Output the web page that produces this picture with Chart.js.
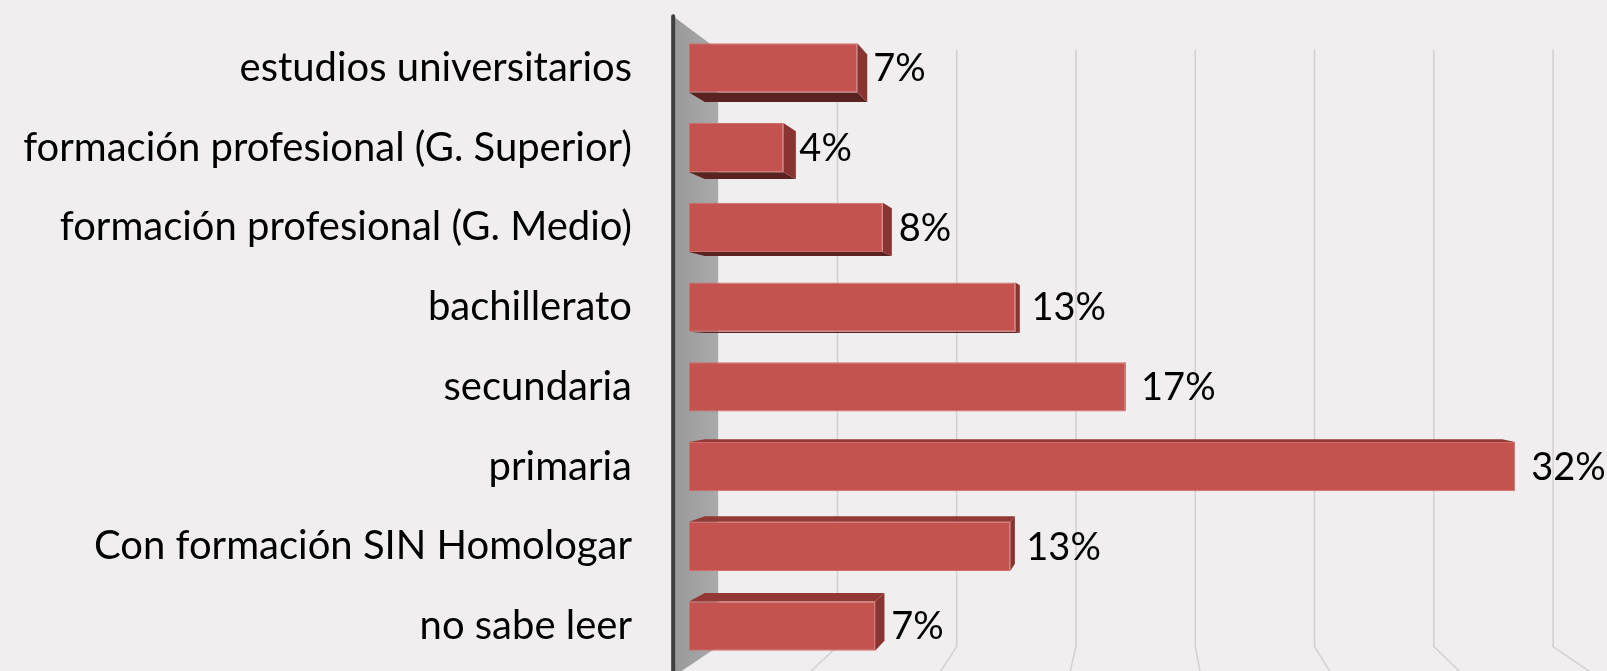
<!DOCTYPE html>
<html lang="es">
<head>
<meta charset="utf-8">
<title>Nivel de estudios</title>
<script src="https://cdn.jsdelivr.net/npm/chart.js@4.4.1/dist/chart.umd.min.js"></script>
<style>
  html, body { margin:0; padding:0; background:#F0EEEF; }
  #wrap { width:1607px; height:671px; }
</style>
</head>
<body>
<div id="wrap"><canvas id="eduChart" width="1607" height="671"></canvas></div>
<script>
/* ---------- Data ---------- */
const categories = [
  'estudios universitarios',
  'formación profesional (G. Superior)',
  'formación profesional (G. Medio)',
  'bachillerato',
  'secundaria',
  'primaria',
  'Con formación SIN Homologar',
  'no sabe leer'
];
const shares = [6.6, 3.7, 7.6, 12.8, 17.1, 32.4, 12.6, 7.3];
const gridValues = [5, 10, 15, 20, 25, 30, 35];

const FONT = 'Lato, "Open Sans", sans-serif';
const FONT_SIZE = 40;
const LABEL_SIZE = 38;

/* ---------- 3D look (perspective toward a vanishing point) ---------- */
const VP_FX = 0.4924, VP_FY = 0.5266;
const WALL_FRONT = 1.035, BACK_WALL = 0.9355, BAR_BACK = 0.965;

function vp(chart){
  const a = chart.chartArea;
  return { x: a.left + (a.right - a.left) * VP_FX, y: a.top + (a.bottom - a.top) * VP_FY };
}
function proj(v, x, y, s){
  return [v.x + (x - v.x) * s, v.y + (y - v.y) * s];
}
function poly(ctx, pts, fill){
  ctx.beginPath();
  ctx.moveTo(pts[0][0], pts[0][1]);
  for(let i = 1; i < pts.length; i++) ctx.lineTo(pts[i][0], pts[i][1]);
  ctx.closePath();
  ctx.fillStyle = fill;
  ctx.fill();
}

const scenePlugin = {
  id:'scene',
  beforeDatasetsDraw(chart){
    const ctx = chart.ctx;
    const a = chart.chartArea;
    const xs = chart.scales.x;
    const v = vp(chart);
    const x0 = xs.getPixelForValue(0);

    ctx.save();
    // back wall gridlines + floor lines
    ctx.strokeStyle = '#D2D0D1';
    ctx.lineWidth = 1.5;
    gridValues.forEach(g => {
      const gx = xs.getPixelForValue(g);
      const t = proj(v, gx, a.top, BACK_WALL);
      const b = proj(v, gx, a.bottom, BACK_WALL);
      const f = proj(v, gx, a.bottom, WALL_FRONT);
      ctx.beginPath();
      ctx.moveTo(t[0], t[1]);
      ctx.lineTo(b[0], b[1]);
      ctx.lineTo(f[0], f[1]);
      ctx.stroke();
    });

    // left side wall
    const wall = [
      proj(v, x0, a.top, WALL_FRONT), proj(v, x0, a.top, BACK_WALL),
      proj(v, x0, a.bottom, BACK_WALL), proj(v, x0, a.bottom, WALL_FRONT)
    ];
    const grad = ctx.createLinearGradient(wall[0][0], 0, wall[1][0], 0);
    grad.addColorStop(0, '#999999');
    grad.addColorStop(1, '#AAAAAA');
    poly(ctx, wall, grad);
    ctx.strokeStyle = '#3F3F3F';
    ctx.lineWidth = 4;
    ctx.lineCap = 'round';
    ctx.beginPath();
    ctx.moveTo(wall[0][0], wall[0][1]);
    ctx.lineTo(wall[3][0], wall[3][1]);
    ctx.stroke();

    // bar depth faces (drawn behind the front faces)
    chart.getDatasetMeta(0).data.forEach(el => {
      const p = el.getProps(['x','y','base','height'], true);
      const L = p.base, R = p.x, T = p.y - p.height/2, B = p.y + p.height/2;
      const bLT = proj(v, L, T, BAR_BACK), bRT = proj(v, R, T, BAR_BACK);
      const bLB = proj(v, L, B, BAR_BACK), bRB = proj(v, R, B, BAR_BACK);
      if(B < v.y) poly(ctx, [[L,B],[R,B],bRB,bLB], '#5A2220');
      if(T > v.y) poly(ctx, [[L,T],[R,T],bRT,bLT], '#933935');
      if(R < v.x) poly(ctx, [[R,T],[R,B],bRB,bRT], '#8A3431');
    });
    ctx.restore();
  },
  afterDatasetsDraw(chart){
    const ctx = chart.ctx;
    ctx.save();
    ctx.font = LABEL_SIZE + 'px ' + FONT;
    ctx.fillStyle = '#000';
    ctx.textAlign = 'left';
    ctx.textBaseline = 'middle';
    chart.getDatasetMeta(0).data.forEach((el, i) => {
      ctx.fillText(Math.round(shares[i]) + '%', el.x + 16, el.y + 1);
    });
    ctx.restore();
  }
};

/* ---------- Chart ---------- */
new Chart(document.getElementById('eduChart'), {
  type:'bar',
  data:{
    labels: categories,
    datasets:[{
      data: shares,
      backgroundColor:'#C4534F',
      borderColor:'#CF6D68',
      borderWidth:1,
      borderSkipped:false,
      barPercentage:0.62,
      categoryPercentage:1
    }]
  },
  options:{
    responsive:false,
    animation:false,
    devicePixelRatio:1,
    indexAxis:'y',
    layout:{ padding:{ top:28, bottom:5, left:0, right:0 } },
    plugins:{ legend:{ display:false }, tooltip:{ enabled:false } },
    scales:{
      x:{ display:false, min:0, max:36 },
      y:{
        grid:{ display:false, drawTicks:false },
        border:{ display:false },
        ticks:{ color:'#000', padding:57, font:{ family:FONT, size:FONT_SIZE } },
        afterFit(scale){
          scale.width = 689;
          // labels sit inside their bands, no extra room needed above/below
          scale.paddingTop = 0;
          scale.paddingBottom = 0;
        }
      }
    }
  },
  plugins:[scenePlugin]
});
</script>
</body>
</html>
